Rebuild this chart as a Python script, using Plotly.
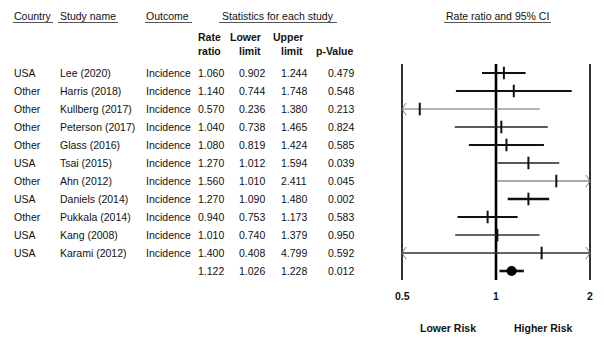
import math
import plotly.graph_objects as go

countries = ["USA", "Other", "Other", "Other", "Other", "USA", "Other", "USA", "Other", "USA", "USA"]
studies = ["Lee (2020)", "Harris (2018)", "Kullberg (2017)", "Peterson (2017)", "Glass (2016)",
           "Tsai (2015)", "Ahn (2012)", "Daniels (2014)", "Pukkala (2014)", "Kang (2008)", "Karami (2012)"]
outcomes = ["Incidence"] * 11
rate_ratio = [1.060, 1.140, 0.570, 1.040, 1.080, 1.270, 1.560, 1.270, 0.940, 1.010, 1.400]
lower = [0.902, 0.744, 0.236, 0.738, 0.819, 1.012, 1.010, 1.090, 0.753, 0.740, 0.408]
upper = [1.244, 1.748, 1.380, 1.465, 1.424, 1.594, 2.411, 1.480, 1.173, 1.379, 4.799]
p_value = [0.479, 0.548, 0.213, 0.824, 0.585, 0.039, 0.045, 0.002, 0.583, 0.950, 0.592]
summary = {"rr": 1.122, "lo": 1.026, "hi": 1.228, "p": 0.012}
ticks = [0.5, 1, 2]
tick_labels = ["0.5", "1", "2"]

# styling (line weights per study)
ci_widths = [2.2, 2.2, 1.0, 1.4, 2.0, 1.4, 1.0, 2.6, 2.0, 1.4, 1.4]
ci_colors = ["#111", "#111", "#666", "#222", "#111", "#222", "#555", "#111", "#111", "#333", "#333"]

W, H = 604, 338
XMIN, XMAX = 0.5, 2.0
FONT = "Liberation Sans, Arial, sans-serif"
FS = 10.5
TXT = "#111111"

fig = go.Figure()

# reference lines
for t, col, w in [(0.5, "#333", 2), (1, "#000", 2.6), (2, "#333", 2)]:
    fig.add_trace(go.Scatter(x=[t, t], y=[-0.5, 11.5], mode="lines",
                             line=dict(color=col, width=w), hoverinfo="skip", showlegend=False))

px_per_dec = 188 / math.log10(4)
def shift(x, px):
    return x * 10 ** (px / px_per_dec)

# study CIs
for i in range(len(studies)):
    lo = max(lower[i], XMIN)
    hi = min(upper[i], XMAX)
    fig.add_trace(go.Scatter(x=[lo, hi], y=[i, i], mode="lines",
                             line=dict(color=ci_colors[i], width=ci_widths[i]),
                             hoverinfo="skip", showlegend=False))
    ax, ay = [], []
    if lower[i] < XMIN:
        ax += [shift(XMIN, 4), XMIN, shift(XMIN, 4), None]
        ay += [i - 0.33, i, i + 0.33, None]
    if upper[i] > XMAX:
        ax += [shift(XMAX, -4), XMAX, shift(XMAX, -4), None]
        ay += [i - 0.33, i, i + 0.33, None]
    if ax:
        fig.add_trace(go.Scatter(x=ax, y=ay, mode="lines", line=dict(color="#777", width=1),
                                 hoverinfo="skip", showlegend=False))

# point estimates
fig.add_trace(go.Scatter(x=rate_ratio, y=list(range(len(studies))), mode="markers",
                         marker=dict(symbol="line-ns-open", size=9, color="#111",
                                     line=dict(color="#111", width=2)),
                         hoverinfo="skip", showlegend=False))

# summary
srow = len(studies)
fig.add_trace(go.Scatter(x=[summary["lo"], summary["hi"]], y=[srow, srow], mode="lines",
                         line=dict(color="#111", width=2.6), hoverinfo="skip", showlegend=False))
fig.add_trace(go.Scatter(x=[summary["rr"]], y=[srow], mode="markers",
                         marker=dict(symbol="circle", size=10, color="#000"),
                         hoverinfo="skip", showlegend=False))

ann = []
def txt(x, y, s, anchor="left", bold=False):
    if bold:
        s = "<b>" + s + "</b>"
    ann.append(dict(x=x / W, y=y, xref="paper", yref="y", text=s,
                    showarrow=False, xanchor=anchor, yanchor="middle",
                    font=dict(family=FONT, size=FS, color=TXT)))

def row_y(px):
    return (px - 73) / 18.0

# headers
txt(12, row_y(16), "Country")
txt(58, row_y(16), "Study name")
txt(144, row_y(16), "Outcome")
txt(278, row_y(16), "Statistics for each study", anchor="center")
txt(497, row_y(16), "Rate ratio and 95% CI", anchor="center")
hdr_cols = [(223, "Rate", "ratio"), (263, "Lower", "limit"), (305, "Upper", "limit"), (356, "", "p-Value")]
for x, a, b in hdr_cols:
    if a:
        txt(x, row_y(37), a, anchor="right", bold=True)
    txt(x, row_y(51), b, anchor="right", bold=True)

# rows
for i in range(len(studies)):
    txt(12, i, countries[i])
    txt(58, i, studies[i])
    txt(144, i, outcomes[i])
    txt(226, i, f"{rate_ratio[i]:.3f}", anchor="right")
    txt(267, i, f"{lower[i]:.3f}", anchor="right")
    txt(309, i, f"{upper[i]:.3f}", anchor="right")
    txt(356, i, f"{p_value[i]:.3f}", anchor="right")
txt(226, srow, f"{summary['rr']:.3f}", anchor="right")
txt(267, srow, f"{summary['lo']:.3f}", anchor="right")
txt(309, srow, f"{summary['hi']:.3f}", anchor="right")
txt(356, srow, f"{summary['p']:.3f}", anchor="right")

# tick labels
for t, lab in zip(ticks, tick_labels):
    ann.append(dict(x=math.log10(t), y=row_y(296), xref="x", yref="y", text="<b>" + lab + "</b>",
                    showarrow=False, xanchor="center", yanchor="middle",
                    font=dict(family=FONT, size=FS, color=TXT)))
txt(448, row_y(328), "Lower Risk", anchor="center", bold=True)
txt(543, row_y(328), "Higher Risk", anchor="center", bold=True)

# underlines
shapes = []
for x0, x1 in [(13, 53), (58, 118), (145, 192), (219, 337), (444, 551)]:
    shapes.append(dict(type="line", xref="paper", yref="paper",
                       x0=x0 / W, x1=x1 / W, y0=1 - 22.5 / H, y1=1 - 22.5 / H,
                       line=dict(color="#555", width=1)))

pad = 3
d = pad / px_per_dec
fig.update_layout(
    width=W, height=H, margin=dict(l=0, r=0, t=0, b=0),
    paper_bgcolor="white", plot_bgcolor="white",
    xaxis=dict(type="log", range=[math.log10(XMIN) - d, math.log10(XMAX) + d],
               domain=[(402 - pad) / W, (590 + pad) / W], visible=False, fixedrange=True),
    yaxis=dict(range=[(338 - 73) / 18.0, -73 / 18.0], domain=[0, 1], visible=False, fixedrange=True),
    annotations=ann, shapes=shapes, showlegend=False,
)

fig.write_html("out.html", config={"displayModeBar": False},
               post_script="document.body.style.margin='0';document.body.style.overflow='hidden';")
